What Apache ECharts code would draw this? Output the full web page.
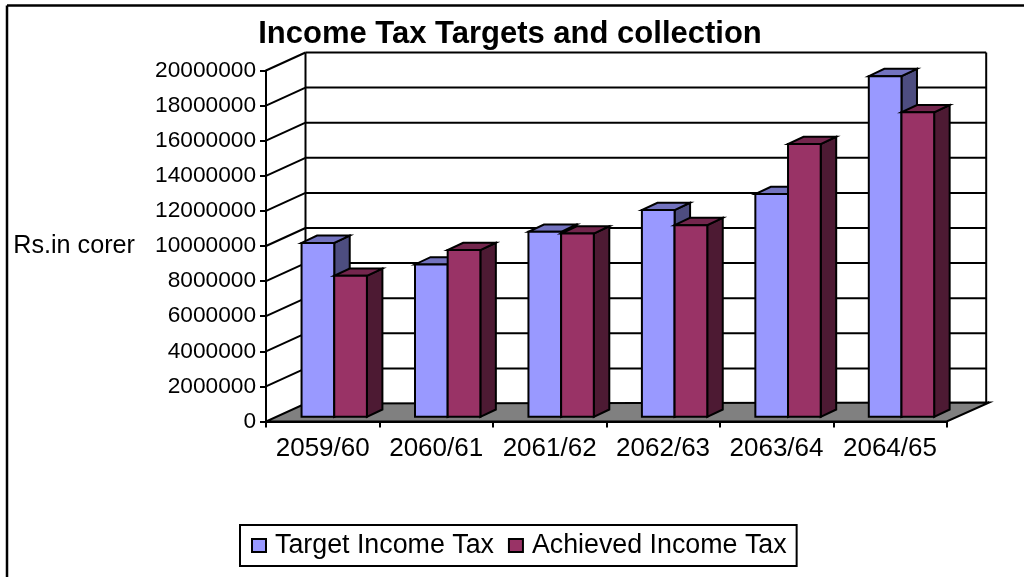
<!DOCTYPE html>
<html>
<head>
<meta charset="utf-8">
<style>html,body{margin:0;padding:0;background:#fff}#chart{width:1024px;height:577px}</style>
<script src="https://cdn.jsdelivr.net/npm/echarts@6/dist/echarts.min.js"></script>
</head>
<body>
<div id="chart"></div>
<script>
// Income tax targets against collections, fiscal years 2059/60 to 2064/65
const categories = ['2059/60', '2060/61', '2061/62', '2062/63', '2063/64', '2064/65'];
const targetIncomeTax = [9910000, 8680000, 10540000, 11780000, 12690000, 19410000];
const achievedIncomeTax = [8030000, 9500000, 10440000, 10920000, 15540000, 17350000];
const yTicks = [0, 2000000, 4000000, 6000000, 8000000, 10000000, 12000000, 14000000, 16000000, 18000000, 20000000];

// Oblique projection used for the fake 3D look, in pixels
const wallDepth = { dx: 39.5, dy: 18 };
const barInset = { dx: 11.5, dy: 4.7 };
const barDepth = { dx: 15.5, dy: 7.3 };
const barShare = 0.288;

function segment(x1, y1, x2, y2, width) {
  return { type: 'line', shape: { x1, y1, x2, y2 }, style: { stroke: '#000', lineWidth: width || 2 } };
}

function polygon(points, fill) {
  return {
    type: 'polygon',
    shape: { points },
    style: { fill, stroke: '#000', lineWidth: 2, lineJoin: 'miter' }
  };
}

// Floor, back wall and gridlines; one element per y tick
function renderWall(params, api) {
  const value = api.value(0);
  const band = api.size([1, 0])[0];
  const first = api.coord([0, value]);
  const last = api.coord([categories.length - 1, value]);
  const left = first[0] - band / 2;
  const right = last[0] + band / 2;
  const y = first[1];
  const children = [];
  if (value === 0) {
    const topY = api.coord([0, yTicks[yTicks.length - 1]])[1];
    children.push(polygon([
      [left, y],
      [right, y],
      [right + wallDepth.dx + 3, y - wallDepth.dy - 1],
      [left + wallDepth.dx, y - wallDepth.dy]
    ], '#808080'));
    children.push(segment(left + wallDepth.dx, y - wallDepth.dy, left + wallDepth.dx, topY - wallDepth.dy));
    children.push(segment(right + wallDepth.dx, y - wallDepth.dy, right + wallDepth.dx, topY - wallDepth.dy));
  } else {
    children.push(segment(left + wallDepth.dx, y - wallDepth.dy, right + wallDepth.dx, y - wallDepth.dy));
    children.push(segment(left, y, left + wallDepth.dx, y - wallDepth.dy));
  }
  return { type: 'group', children };
}

// One extruded bar; slot is -1 for the left bar of a pair and 0 for the right one
function barRenderer(slot, front, top, side) {
  return function (params, api) {
    const band = api.size([1, 0])[0];
    const width = band * barShare;
    const base = api.coord([api.value(0), 0]);
    const head = api.coord([api.value(0), api.value(1)]);
    const x0 = base[0] + barInset.dx + slot * width;
    const x1 = x0 + width;
    const yBase = base[1] - barInset.dy;
    const yHead = head[1] - barInset.dy;
    const dx = barDepth.dx;
    const dy = barDepth.dy;
    return {
      type: 'group',
      children: [
        polygon([[x1, yBase], [x1 + dx, yBase - dy], [x1 + dx, yHead - dy], [x1, yHead]], side),
        polygon([[x0, yHead], [x1, yHead], [x1 + dx, yHead - dy], [x0 + dx, yHead - dy]], top),
        polygon([[x0, yBase], [x1, yBase], [x1, yHead], [x0, yHead]], front)
      ]
    };
  };
}

const chart = echarts.init(document.getElementById('chart'), null, { renderer: 'canvas' });
const fontFamily = '"Liberation Sans", Arial, sans-serif';

chart.setOption({
  animation: false,
  backgroundColor: '#fff',
  title: {
    text: 'Income Tax Targets and collection',
    left: 505,
    top: 14,
    textAlign: 'center',
    textStyle: { fontFamily, fontSize: 31, fontWeight: 'bold', color: '#000' }
  },
  legend: {
    data: ['Target Income Tax', 'Achieved Income Tax'],
    left: 240,
    top: 525,
    orient: 'horizontal',
    icon: 'rect',
    itemWidth: 14,
    itemHeight: 13,
    itemGap: 14,
    padding: [7, 10, 7, 11],
    borderColor: '#000',
    borderWidth: 2,
    textStyle: { fontFamily, fontSize: 26.8, color: '#000', padding: [0, 0, 0, 4] }
  },
  grid: { left: 266, right: 77.3, top: 70.5, bottom: 155.5, containLabel: false, outerBoundsMode: 'none' },
  xAxis: {
    type: 'category',
    data: categories,
    boundaryGap: true,
    axisLine: { lineStyle: { color: '#000', width: 2 } },
    axisTick: { show: true, length: 6, inside: false, lineStyle: { color: '#000', width: 2 } },
    axisLabel: { color: '#000', fontFamily, fontSize: 26, margin: 14, interval: 0 }
  },
  yAxis: {
    type: 'value',
    min: 0,
    max: 20000000,
    interval: 2000000,
    name: 'Rs.in corer',
    nameLocation: 'middle',
    nameRotate: 0,
    nameGap: 131,
    nameTextStyle: { color: '#000', fontFamily, fontSize: 25.2 },
    splitLine: { show: false },
    axisLine: { show: true, lineStyle: { color: '#000', width: 2 } },
    axisTick: { show: true, length: 6, lineStyle: { color: '#000', width: 2 } },
    axisLabel: { color: '#000', fontFamily, fontSize: 22.7, margin: 10, formatter: (v) => String(v) }
  },
  graphic: [
    { type: 'line', shape: { x1: 7, y1: 5.5, x2: 1024, y2: 5.5 }, style: { stroke: '#000', lineWidth: 2.5 } },
    { type: 'line', shape: { x1: 7, y1: 5.5, x2: 7, y2: 577 }, style: { stroke: '#000', lineWidth: 2.5 } }
  ],
  series: [
    {
      name: 'Chart walls',
      type: 'custom',
      z: 1,
      silent: true,
      data: yTicks.map((t) => [t]),
      encode: { y: 0 },
      renderItem: renderWall
    },
    {
      name: 'Target Income Tax',
      type: 'custom',
      z: 3,
      itemStyle: { color: '#9999FF', borderColor: '#000', borderWidth: 2 },
      data: targetIncomeTax.map((v, i) => [i, v]),
      encode: { x: 0, y: 1 },
      renderItem: barRenderer(-1, '#9999FF', '#7373BF', '#4D4D80')
    },
    {
      name: 'Achieved Income Tax',
      type: 'custom',
      z: 4,
      itemStyle: { color: '#993366', borderColor: '#000', borderWidth: 2 },
      data: achievedIncomeTax.map((v, i) => [i, v]),
      encode: { x: 0, y: 1 },
      renderItem: barRenderer(0, '#993366', '#73264D', '#4D1A33')
    }
  ]
});
</script>
</body>
</html>
